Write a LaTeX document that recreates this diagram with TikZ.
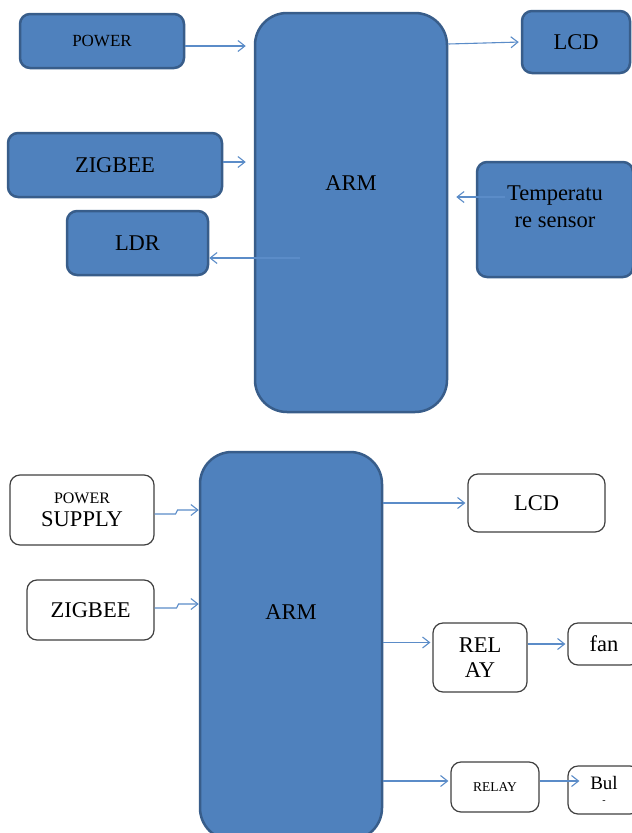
\documentclass[tikz,border=0pt]{standalone}
\usepackage{fontspec}
\setmainfont{Liberation Serif}
\usetikzlibrary{arrows.meta}
\definecolor{armblue}{HTML}{4F81BD}
\definecolor{armedge}{HTML}{385D8A}
\definecolor{linkblue}{HTML}{5B8CC8}
\definecolor{boxedge}{HTML}{404040}
\newcommand\boxfont{\fontsize{22.5}{25}\selectfont}

\begin{document}
\begin{tikzpicture}[x=1pt,y=-1pt,text=black,
  bluebox/.style={draw=armedge,fill=armblue,line width=2.5pt,rounded corners=10pt,inner sep=0pt,font=\boxfont},
  whitebox/.style={draw=boxedge,fill=white,line width=1.2pt,rounded corners=10pt,inner sep=0pt,align=center,font=\boxfont},
  link/.style={draw=linkblue,line width=1.1pt,-{Straight Barb[length=7pt,width=11pt]}}]
\clip (0,0) rectangle (632,833);

% first board
\node[bluebox,minimum width=164pt,minimum height=54pt,font=\fontsize{17}{19}\selectfont] (power) at (102,41) {POWER};
\node[bluebox,minimum width=214pt,minimum height=64pt] (zig1) at (115,165) {ZIGBEE};
\node[bluebox,minimum width=141pt,minimum height=64pt] (ldr) at (137.5,243) {LDR};
\node[bluebox,minimum width=192pt,minimum height=399pt,rounded corners=32pt,
  label={[font=\boxfont,yshift=29pt]center:ARM}] (arm1) at (351,212.5) {};
\node[bluebox,minimum width=108pt,minimum height=62pt] (lcd1) at (576,42) {LCD};
\node[bluebox,minimum width=156pt,minimum height=115pt,
  label={[font=\boxfont,align=center,yshift=13pt]center:{Temperatu\\[2pt]re sensor}}] (temp) at (555,219.5) {};

\coordinate (ldrsrc) at (300,258);
\coordinate (tempsrc) at (505,197);
\draw[link, shorten >=8pt] ([yshift=-5pt]power.east) -- ([yshift=-5pt]power.east -| arm1.west);
\draw[link, shorten >=8pt] ([yshift=3pt]zig1.east) -- ([yshift=3pt]zig1.east -| arm1.west);
\draw[link] (ldrsrc) -- (ldrsrc -| ldr.east);
\draw[link, shorten >=2pt] ([yshift=-2pt]lcd1.west -| arm1.east) -- (lcd1.west);
\draw[link, shorten >=8pt] (tempsrc) -- (tempsrc -| arm1.east);

% second board
\node[whitebox,minimum width=144pt,minimum height=70pt] (ps) at (82,510)
  {{\fontsize{16}{18}\selectfont POWER}\\[-2pt]SUPPLY};
\node[whitebox,minimum width=127pt,minimum height=60pt] (zig2) at (90.5,610) {ZIGBEE};
\node[bluebox,minimum width=182pt,minimum height=388pt,rounded corners=32pt,
  label={[font=\boxfont,yshift=34pt]center:ARM}] (arm2) at (291,646) {};
\node[whitebox,minimum width=137pt,minimum height=58pt] (lcd2) at (536.5,503) {LCD};
\node[whitebox,minimum width=94pt,minimum height=69pt] (relay1) at (480,657.5) {REL\\AY};
\node[whitebox,minimum width=72pt,minimum height=42pt] (fan) at (604,644) {fan};
\node[whitebox,minimum width=88pt,minimum height=50pt,font=\fontsize{13.5}{15}\selectfont] (relay2) at (495,787) {RELAY};
\node[whitebox,minimum width=72pt,minimum height=48pt,font=\fontsize{19}{21}\selectfont] (bul) at (604,790)
  {Bul\\[-7pt]{\fontsize{10}{10}\selectfont -}};

\draw[link] ([yshift=-4pt]ps.east) -- ++(21,0) -- ++(2,-4) -- (ps.east -| arm2.west);
\draw[link] ([yshift=2pt]zig2.east) -- ++(22,0) -- ++(2,-4) -- ([yshift=6pt]zig2.east -| arm2.west);
\draw[link, shorten >=2pt] (lcd2.west -| arm2.east) -- (lcd2.west);
\draw[link, shorten >=2pt] ([yshift=15pt]relay1.west -| arm2.east) -- ([yshift=15pt]relay1.west);
\draw[link, shorten >=2pt] (fan.west -| relay1.east) -- (fan.west);
\draw[link, shorten >=2pt] ([yshift=6pt]relay2.west -| arm2.east) -- ([yshift=6pt]relay2.west);
\draw[link] ([yshift=6pt]relay2.east) -- ([xshift=12pt,yshift=6pt]relay2.east -| bul.west);

\end{tikzpicture}
\end{document}
